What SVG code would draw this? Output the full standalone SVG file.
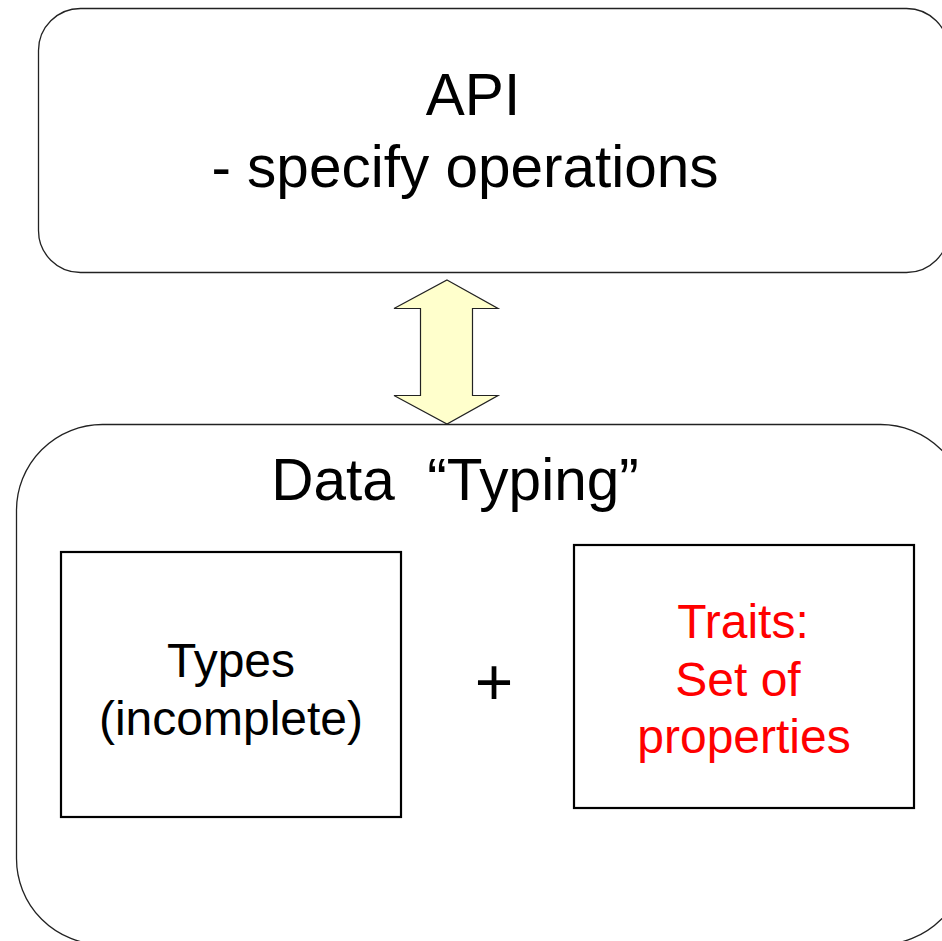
<svg xmlns="http://www.w3.org/2000/svg" width="942" height="941" viewBox="0 0 942 941">
  <style>
    .panel { fill: #ffffff; stroke: #222222; stroke-width: 1.3; }
    .box { fill: #ffffff; stroke: #000000; stroke-width: 2.2; }
    .arrow { fill: #ffffcc; stroke: #222222; stroke-width: 1.2; stroke-linejoin: miter; }
    text { font-family: "Liberation Sans", Arial, sans-serif; text-anchor: middle; fill: #000000; white-space: pre; }
    .big { font-size: 58.5px; }
    .mid { font-size: 48px; }
    .red { fill: #ff0000; }
  </style>
  <rect width="942" height="941" fill="#ffffff"/>

  <g id="api">
    <rect class="panel" x="38.5" y="8.5" width="910" height="264" rx="42" ry="42"/>
    <text class="big" x="473" y="115">API</text>
    <text class="big" x="465" y="187">- specify operations</text>
  </g>

  <g id="connectors">
    <polygon class="arrow" points="447,280 498,308.5 472.5,308.5 472.5,395.5 498,395.5 447,424 394,395.5 420.5,395.5 420.5,308.5 394,308.5"/>
  </g>

  <g id="data-typing">
    <rect class="panel" x="16.5" y="424.5" width="950" height="520" rx="86" ry="86"/>
    <text class="big" x="455" y="500" xml:space="preserve">Data  “Typing”</text>
  </g>

  <g id="types">
    <rect class="box" x="61" y="552" width="340" height="265"/>
    <text class="mid" x="231" y="677">Types</text>
    <text class="mid" x="231" y="735">(incomplete)</text>
  </g>

  <g id="plus">
    <text x="494" y="705" font-size="66">+</text>
  </g>

  <g id="traits">
    <rect class="box" x="574" y="545" width="340" height="263"/>
    <text class="mid red" x="743" y="638">Traits:</text>
    <text class="mid red" x="738" y="696">Set of</text>
    <text class="mid red" x="744" y="753">properties</text>
  </g>
</svg>
